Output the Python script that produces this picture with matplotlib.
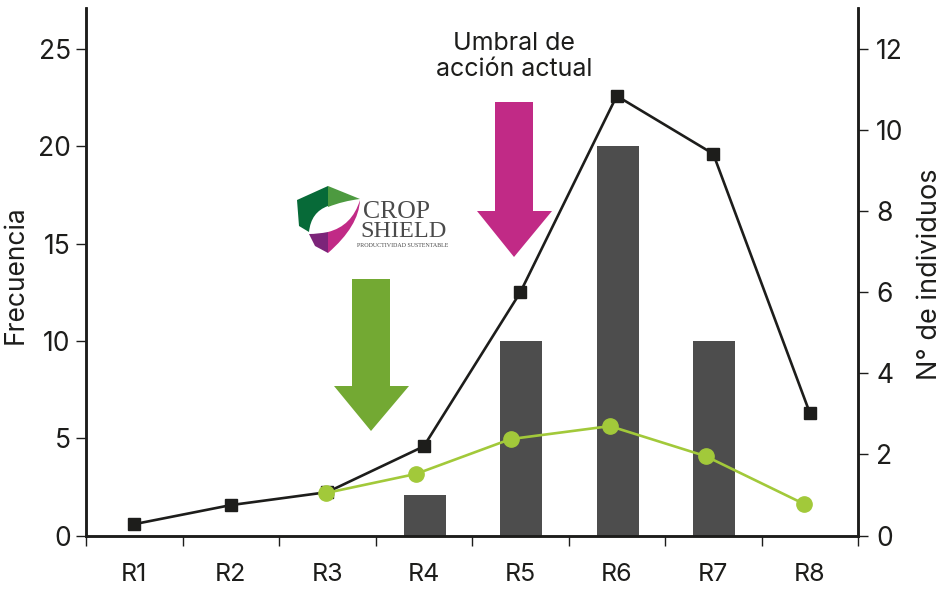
import matplotlib
matplotlib.use("Agg")
import matplotlib.pyplot as plt
from matplotlib.patches import Polygon, PathPatch
from matplotlib.path import Path
import numpy as np

plt.rcParams["font.family"] = ["Inter", "DejaVu Sans"]

W, H = 947, 589
INK = "#1d1d1b"

rounds = ["R1", "R2", "R3", "R4", "R5", "R6", "R7", "R8"]
frecuencia = [0, 0, 0, 2.1, 10, 20, 10, 0]
individuos_black = [0.28, 0.75, 1.07, 2.2, 6.0, 10.85, 9.42, 3.03]
# the green points sit slightly left of the category centres in the original
green_pos = [1.99, 2.92, 3.90, 4.93, 5.92, 6.94]
individuos_green = [1.05, 1.52, 2.38, 2.7, 1.96, 0.78]


def fx(x):
    return x / W


def fy(y):
    return 1 - y / H


def fp(points):
    return [(fx(x), fy(y)) for x, y in points]


fig = plt.figure(figsize=(W / 100, H / 100), dpi=100)
ax = fig.add_axes([fx(86), fy(535.5), (858 - 86) / W, (535.5 - 8) / H])
ax2 = ax.twinx()

xs = np.arange(len(rounds))
ax.bar(xs + 0.01, frecuencia, width=0.435, color="#4d4d4d", zorder=2)
ax.set_xlim(-0.5, 7.5)
ax.set_ylim(0, 27.1)
ax.set_yticks([0, 5, 10, 15, 20, 25])
ax.set_xticks(np.arange(-0.5, 8, 1))
ax.set_xticklabels([])
ax.set_xticks(xs, labels=rounds, minor=True)
ax.tick_params(axis="x", which="major", length=7, width=1, color=INK)
ax.tick_params(axis="x", which="minor", length=0, pad=20, labelsize=18, labelcolor=INK)
ax.tick_params(axis="y", length=7, width=1, color=INK, pad=4, labelsize=19, labelcolor=INK)
ax.set_ylabel("Frecuencia", fontsize=19, color=INK, va="center")
ax.yaxis.set_label_coords((16 - 86) / (858 - 86), 0.495)

ax2.plot(xs, individuos_black, color=INK, lw=1.9, marker="s", ms=8.5, zorder=3)
ax2.plot(green_pos, individuos_green, color="#a2c93a", lw=1.9, marker="o", ms=11, zorder=4)
ax2.set_ylim(0, 13.02)
ax2.set_yticks([0, 2, 4, 6, 8, 10, 12])
ax2.tick_params(axis="y", length=7, width=1, color=INK, pad=6, labelsize=19, labelcolor=INK)
ax2.set_ylabel("N° de individuos", fontsize=19.5, color=INK, va="center")
ax2.yaxis.set_label_coords((930 - 86) / (858 - 86), 0.495)

for a in (ax, ax2):
    a.spines["top"].set_visible(False)
    for s in a.spines.values():
        s.set_linewidth(1.8)
        s.set_color(INK)

# arrows
arrow_magenta = [(495, 102), (533, 102), (533, 211), (552, 211), (514, 257), (477, 211), (495, 211)]
arrow_green = [(352, 279), (390, 279), (390, 386), (409, 386), (371, 431), (334, 386), (352, 386)]
fig.add_artist(Polygon(fp(arrow_magenta), closed=True, fc="#c12a86", ec="none", transform=fig.transFigure, zorder=5))
fig.add_artist(Polygon(fp(arrow_green), closed=True, fc="#73a933", ec="none", transform=fig.transFigure, zorder=5))

fig.text(fx(514), fy(43), "Umbral de", ha="center", va="center", fontsize=18, color=INK)
fig.text(fx(514), fy(69), "acción actual", ha="center", va="center", fontsize=18, color=INK)

# logo
M, L, Q, Z = Path.MOVETO, Path.LINETO, Path.CURVE3, Path.CLOSEPOLY


def shape(points, codes, color):
    path = Path(fp(points), codes)
    fig.add_artist(PathPatch(path, fc=color, ec="none", transform=fig.transFigure, zorder=6))


shape([(297, 200), (328, 186), (328, 206), (311, 212), (309, 232), (299, 226), (297, 200), (297, 200)],
      [M, L, L, Q, Q, L, L, Z], "#076a38")
shape([(328, 186), (360, 199), (343, 201), (328, 207), (328, 186)], [M, L, Q, Q, Z], "#4d9a40")
shape([(309, 234), (318, 234), (328, 232), (328, 253), (315, 246), (309, 234)], [M, Q, Q, L, L, Z], "#7c2479")
shape([(328, 232), (352, 226), (360, 200), (359, 226), (328, 253), (328, 232)], [M, Q, Q, Q, Q, Z], "#c12a86")

logo_font = ["Liberation Serif", "DejaVu Serif"]
fig.text(fx(397), fy(212), "CROP", ha="center", va="center", fontsize=18.5, color="#4a4a4a", family=logo_font, zorder=6)
fig.text(fx(404), fy(232), "SHIELD", ha="center", va="center", fontsize=17.5, color="#4a4a4a", family=logo_font, zorder=6)
fig.text(fx(402.5), fy(246), "PRODUCTIVIDAD SUSTENTABLE", ha="center", va="center", fontsize=4.3, color="#4a4a4a", family=logo_font, zorder=6)

fig.savefig("out.png", dpi=100)
